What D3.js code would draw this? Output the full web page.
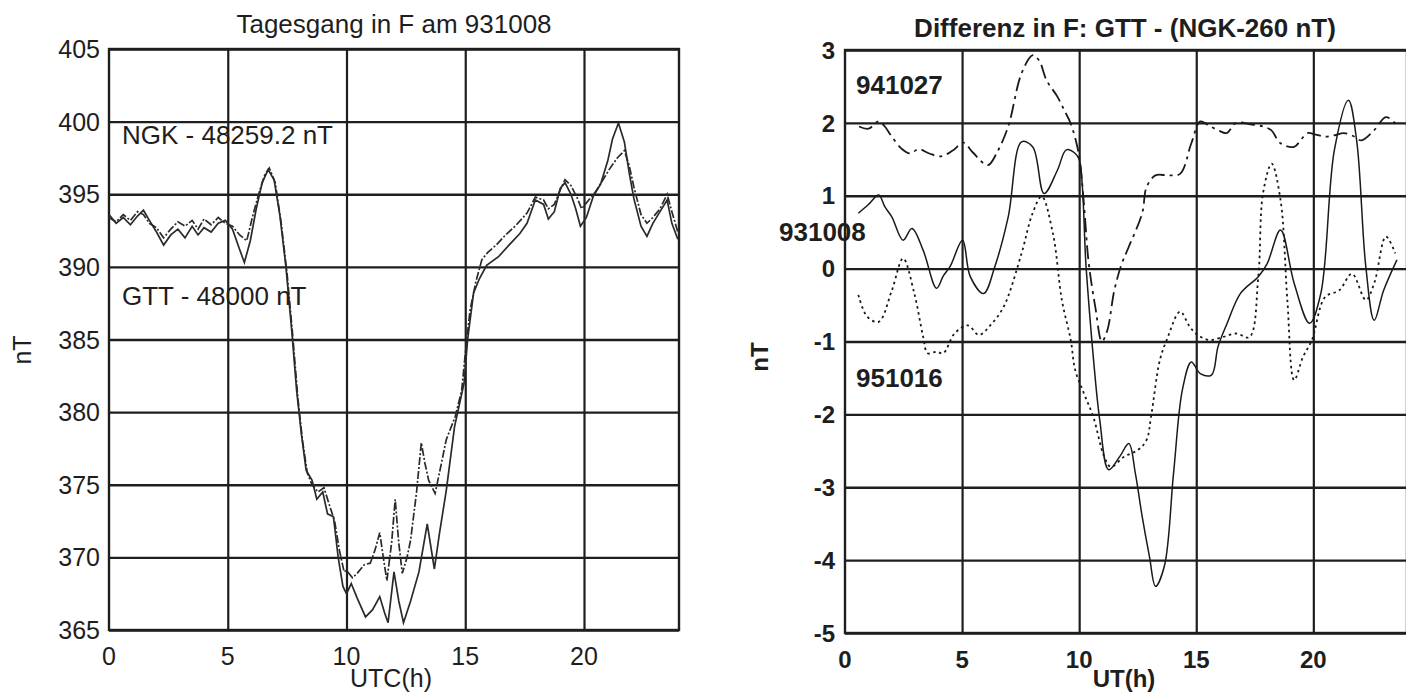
<!DOCTYPE html>
<html>
<head>
<meta charset="utf-8">
<script src="https://cdn.jsdelivr.net/npm/d3@7/dist/d3.min.js"></script>
<style>
  body { margin: 0; background: #fff; }
  svg { display: block; }
  text { fill: #1e1e1e; font-family: "Liberation Sans", Arial, sans-serif; }
</style>
</head>
<body>
<div id="chart"></div>
<script>
// ---- left panel: Tagesgang in F am 931008 (offsets removed) ----
var leftTicksX = [0, 5, 10, 15, 20];
var leftTicksY = [365, 370, 375, 380, 385, 390, 395, 400, 405];

// NGK - 48259.2 nT (solid)
var ngk = [
  [0, 393.6], [0.3, 393.0], [0.6, 393.4], [0.9, 392.9], [1.2, 393.5], [1.45, 393.9], [1.7, 393.2],
  [2.0, 392.4], [2.3, 391.5], [2.6, 392.2], [2.9, 392.6], [3.2, 392.0], [3.5, 392.8], [3.75, 392.2],
  [4.0, 392.7], [4.3, 392.4], [4.6, 393.0], [4.9, 393.2], [5.2, 392.6], [5.5, 391.2], [5.7, 390.3],
  [5.95, 391.8], [6.2, 394.0], [6.45, 395.8], [6.7, 396.7], [6.95, 396.0], [7.2, 393.5], [7.45, 390.0],
  [7.7, 385.5], [7.9, 381.5], [8.1, 378.5], [8.3, 376.0], [8.55, 375.3], [8.75, 374.0], [9.0, 374.5],
  [9.2, 373.0], [9.45, 372.8], [9.65, 370.0], [9.85, 368.0], [10.0, 367.5], [10.2, 368.2], [10.45, 367.2],
  [10.8, 365.9], [11.1, 366.4], [11.4, 367.3], [11.6, 366.2], [11.75, 365.5], [12.0, 369.0], [12.2, 367.0],
  [12.4, 365.5], [12.7, 367.0], [13.05, 369.0], [13.4, 372.3], [13.7, 369.2], [13.9, 371.5], [14.2, 374.6],
  [14.55, 379.0], [14.95, 382.0], [15.1, 385.0], [15.35, 388.2], [15.6, 389.2], [15.9, 390.1], [16.4, 390.7],
  [16.9, 391.6], [17.3, 392.3], [17.6, 393.0], [17.95, 394.6], [18.3, 394.3], [18.5, 393.3], [18.75, 393.8],
  [19.0, 395.4], [19.2, 395.8], [19.45, 395.0], [19.65, 394.0], [19.85, 392.8], [20.1, 393.4], [20.4, 394.9],
  [20.7, 395.7], [21.0, 397.3], [21.2, 398.8], [21.45, 399.9], [21.7, 398.6], [21.9, 396.5], [22.1, 394.7],
  [22.4, 392.8], [22.65, 392.1], [22.9, 393.0], [23.2, 393.8], [23.5, 394.6], [23.7, 393.0], [23.95, 391.9]
];

// GTT - 48000 nT (dash-dot)
var gtt = [
  [0, 393.4], [0.3, 393.1], [0.6, 393.6], [0.9, 393.2], [1.2, 393.8], [1.45, 393.6], [1.7, 393.0],
  [2.0, 392.7], [2.3, 392.0], [2.6, 392.6], [2.9, 393.1], [3.2, 392.8], [3.5, 393.2], [3.75, 392.6],
  [4.0, 393.3], [4.3, 392.9], [4.6, 393.4], [4.9, 393.0], [5.2, 392.8], [5.5, 392.2], [5.8, 391.8],
  [6.05, 393.5], [6.3, 395.0], [6.55, 396.3], [6.75, 396.8], [7.0, 395.8], [7.25, 393.0], [7.5, 389.5],
  [7.75, 385.0], [7.95, 381.0], [8.15, 378.0], [8.35, 375.8], [8.55, 375.0], [8.8, 374.5], [9.05, 374.8],
  [9.3, 373.5], [9.5, 372.5], [9.7, 370.5], [9.9, 369.0], [10.0, 369.1], [10.25, 368.6], [10.45, 368.9],
  [10.75, 369.5], [11.0, 369.6], [11.2, 370.5], [11.4, 371.7], [11.55, 370.0], [11.7, 368.4], [11.9, 371.0],
  [12.05, 374.0], [12.2, 371.0], [12.35, 368.9], [12.55, 370.0], [12.7, 371.2], [12.95, 374.5], [13.15, 377.9],
  [13.3, 376.5], [13.46, 375.3], [13.73, 374.4], [14.0, 376.5], [14.2, 378.1], [14.58, 379.7], [14.85, 381.5],
  [15.0, 384.0], [15.2, 387.0], [15.45, 389.0], [15.7, 390.5], [15.95, 391.0], [16.3, 391.5], [16.7, 392.2],
  [17.1, 392.8], [17.6, 393.7], [17.95, 394.8], [18.3, 394.6], [18.5, 394.0], [18.75, 394.3], [19.0, 395.3],
  [19.2, 396.0], [19.45, 395.6], [19.7, 394.8], [19.9, 394.0], [20.2, 394.6], [20.5, 395.2], [20.8, 396.0],
  [21.1, 396.8], [21.4, 397.5], [21.7, 398.0], [21.9, 397.0], [22.1, 395.5], [22.4, 393.6], [22.65, 393.0],
  [22.9, 393.4], [23.2, 394.0], [23.5, 395.0], [23.7, 393.8], [23.95, 392.4]
];

// ---- right panel: Differenz in F: GTT - (NGK-260 nT) ----
var rightTicksX = [0, 5, 10, 15, 20];
var rightTicksY = [-5, -4, -3, -2, -1, 0, 1, 2, 3];

var d941027 = [
  [0.6, 1.95], [1.0, 1.92], [1.44, 2.02], [1.7, 1.95], [2.0, 1.81], [2.4, 1.65], [2.77, 1.58], [3.15, 1.64],
  [3.6, 1.58], [4.1, 1.54], [4.6, 1.62], [5.06, 1.73], [5.44, 1.6], [6.1, 1.42], [6.5, 1.6], [6.97, 1.95],
  [7.54, 2.68], [8.02, 2.93], [8.3, 2.85], [8.6, 2.59], [9.07, 2.36], [9.4, 2.15], [9.64, 1.99], [9.98, 1.58],
  [10.2, 0.9], [10.4, 0.1], [10.7, -0.55], [10.97, -1.0], [11.2, -0.85], [11.5, -0.3], [11.8, 0.05], [12.12, 0.3],
  [12.69, 0.76], [12.88, 1.12], [13.26, 1.28], [13.8, 1.28], [14.31, 1.3], [14.79, 1.72], [15.17, 2.02],
  [15.5, 1.97], [15.93, 1.9], [16.3, 1.86], [16.7, 2.0], [17.3, 1.98], [17.85, 1.95], [18.2, 1.9], [18.6, 1.72],
  [19.18, 1.67], [19.5, 1.78], [19.75, 1.86], [20.1, 1.84], [20.5, 1.81], [20.9, 1.83], [21.3, 1.86],
  [21.7, 1.82], [22.05, 1.76], [22.6, 1.9], [23.1, 2.08], [23.57, 1.97]
];

var d931008 = [
  [0.57, 0.76], [1.0, 0.88], [1.44, 1.01], [1.7, 0.85], [2.0, 0.71], [2.48, 0.39], [2.86, 0.55], [3.34, 0.25],
  [3.91, -0.27], [4.2, -0.1], [4.49, 0.03], [5.02, 0.39], [5.35, -0.11], [5.92, -0.34], [6.4, 0.03], [6.97, 0.71],
  [7.54, 1.74], [8.02, 1.67], [8.5, 1.03], [9.07, 1.35], [9.45, 1.63], [9.83, 1.58], [10.0, 1.5], [10.3, 0.0],
  [10.6, -1.2], [10.88, -2.08], [11.26, -2.76], [11.73, -2.58], [12.12, -2.4], [12.4, -2.81], [12.69, -3.4],
  [13.0, -3.95], [13.26, -4.36], [13.64, -4.08], [14.03, -2.81], [14.41, -1.66], [14.79, -1.28], [15.17, -1.44],
  [15.65, -1.46], [15.93, -1.07], [16.32, -0.75], [16.89, -0.34], [17.65, -0.11], [18.03, 0.07], [18.6, 0.53],
  [19.18, -0.2], [19.84, -0.75], [20.32, -0.34], [20.9, 1.63], [21.5, 2.31], [21.85, 1.76], [22.24, 0.03],
  [22.6, -0.71], [23.0, -0.3], [23.57, 0.12]
];

var d951016 = [
  [0.57, -0.36], [0.95, -0.66], [1.44, -0.73], [2.0, -0.3], [2.48, 0.14], [2.96, -0.34], [3.34, -0.94],
  [3.53, -1.16], [3.91, -1.14], [4.2, -1.16], [4.68, -0.89], [5.25, -0.78], [5.72, -0.91], [6.2, -0.78],
  [6.78, -0.52], [7.54, 0.21], [8.0, 0.75], [8.4, 0.99], [8.88, 0.48], [9.26, -0.43], [9.64, -0.98],
  [9.83, -1.39], [10.2, -1.71], [10.6, -2.03], [11.07, -2.58], [11.35, -2.72], [11.92, -2.58], [12.5, -2.49],
  [12.88, -2.35], [13.07, -2.03], [13.45, -1.25], [13.74, -0.98], [14.31, -0.59], [14.69, -0.78],
  [14.98, -0.89], [15.55, -0.98], [16.12, -0.94], [16.7, -0.89], [17.27, -0.94], [17.65, -0.11], [17.85, 1.03],
  [18.22, 1.44], [18.6, 0.94], [18.89, -0.43], [19.18, -1.53], [19.56, -1.21], [19.94, -0.98], [20.5, -0.39],
  [21.1, -0.3], [21.65, -0.07], [22.24, -0.43], [22.6, -0.2], [23.1, 0.44], [23.5, 0.21]
];

var svg = d3.select('#chart')
    .append('svg')
    .attr('width', 1406)
    .attr('height', 693);

var ink = '#1e1e1e';

//Draw one panel: frame, grid, tick labels
function panel(x, y, ticksX, ticksY, bold, labelSize, gap){
    var g = svg.append('g');
    var x0 = x.range()[0], x1 = x.range()[1];
    var y0 = y.range()[0], y1 = y.range()[1];

    //grid lines from the axes
    g.append('g')
        .attr('transform', 'translate(0,' + y0 + ')')
        .call(d3.axisBottom(x).tickValues(ticksX.filter(function(d){ return d > 0; }))
            .tickSize(-(y0 - y1)).tickFormat(''))
        .call(function(a){ a.select('.domain').remove(); })
        .selectAll('line').attr('stroke', ink).attr('stroke-width', 2.2);

    g.append('g')
        .attr('transform', 'translate(' + x0 + ',0)')
        .call(d3.axisLeft(y).tickValues(ticksY).tickSize(-(x1 - x0)).tickFormat(''))
        .call(function(a){ a.select('.domain').remove(); })
        .selectAll('line').attr('stroke', ink).attr('stroke-width', 2.4);

    g.append('rect')
        .attr('x', x0).attr('y', y1)
        .attr('width', x1 - x0).attr('height', y0 - y1)
        .attr('fill', 'none').attr('stroke', ink).attr('stroke-width', 2.4);

    //tick labels
    g.selectAll('.ylab')
        .data(ticksY)
        .enter()
        .append('text')
        .attr('x', x0 - gap)
        .attr('y', function(d){ return y(d); })
        .attr('dy', '0.36em')
        .attr('text-anchor', 'end')
        .style('font-size', labelSize + 'px')
        .style('font-weight', bold ? 'bold' : 'normal')
        .text(function(d){ return d; });

    g.selectAll('.xlab')
        .data(ticksX)
        .enter()
        .append('text')
        .attr('x', function(d){ return x(d); })
        .attr('y', y0 + 35)
        .attr('text-anchor', 'middle')
        .style('font-size', labelSize + 'px')
        .style('font-weight', bold ? 'bold' : 'normal')
        .text(function(d){ return d; });
    return g;
}

function label(txt, px, py, size, bold, anchor, rot){
    var t = svg.append('text')
        .attr('x', px).attr('y', py)
        .attr('text-anchor', anchor || 'start')
        .style('font-size', size + 'px')
        .style('font-weight', bold ? 'bold' : 'normal')
        .text(txt);
    if (rot) t.attr('transform', 'rotate(' + rot + ',' + px + ',' + py + ')');
    return t;
}

// ---- left panel ----
var xL = d3.scaleLinear().domain([0, 24]).range([109, 679]);
var yL = d3.scaleLinear().domain([365, 405]).range([630, 49]);
panel(xL, yL, leftTicksX, leftTicksY, false, 25, 9);

var lineL = d3.line()
    .x(function(d){ return xL(d[0]); })
    .y(function(d){ return yL(d[1]); });

svg.append('path').datum(gtt)
    .attr('d', lineL).attr('fill', 'none')
    .attr('stroke', '#2a2a2a').attr('stroke-width', 1.7)
    .attr('stroke-dasharray', '8,2,2,2');
svg.append('path').datum(ngk)
    .attr('d', lineL).attr('fill', 'none')
    .attr('stroke', '#2a2a2a').attr('stroke-width', 1.7);

label('Tagesgang in F am 931008', 394, 33, 26, false, 'middle');
label('NGK - 48259.2 nT', 122, 144, 26, false);
label('GTT - 48000 nT', 122, 305, 26, false);
label('nT', 31, 350, 25, false, 'middle', -90);
label('UTC(h)', 391, 687, 25, false, 'middle');

// ---- right panel ----
var xR = d3.scaleLinear().domain([0, 24]).range([845, 1407]);
var yR = d3.scaleLinear().domain([-5, 3]).range([633, 50]);
panel(xR, yR, rightTicksX, rightTicksY, true, 24, 10);

var lineR = d3.line()
    .curve(d3.curveCatmullRom)
    .x(function(d){ return xR(d[0]); })
    .y(function(d){ return yR(d[1]); });

svg.append('path').datum(d941027)
    .attr('d', lineR).attr('fill', 'none')
    .attr('stroke', '#1a1a1a').attr('stroke-width', 1.8)
    .attr('stroke-dasharray', '14,5,3,5');
svg.append('path').datum(d951016)
    .attr('d', lineR).attr('fill', 'none')
    .attr('stroke', '#1a1a1a').attr('stroke-width', 1.8)
    .attr('stroke-dasharray', '2.5,3.5');
svg.append('path').datum(d931008)
    .attr('d', lineR).attr('fill', 'none')
    .attr('stroke', '#1a1a1a').attr('stroke-width', 1.5);

label('Differenz in F: GTT - (NGK-260 nT)', 1125, 37, 26, true, 'middle');
label('941027', 856, 94, 26, true);
label('931008', 779, 241, 26, true);
label('951016', 856, 387, 26, true);
label('nT', 768, 357, 24, true, 'middle', -90);
label('UT(h)', 1124, 687, 24, true, 'middle');
</script>
</body>
</html>
